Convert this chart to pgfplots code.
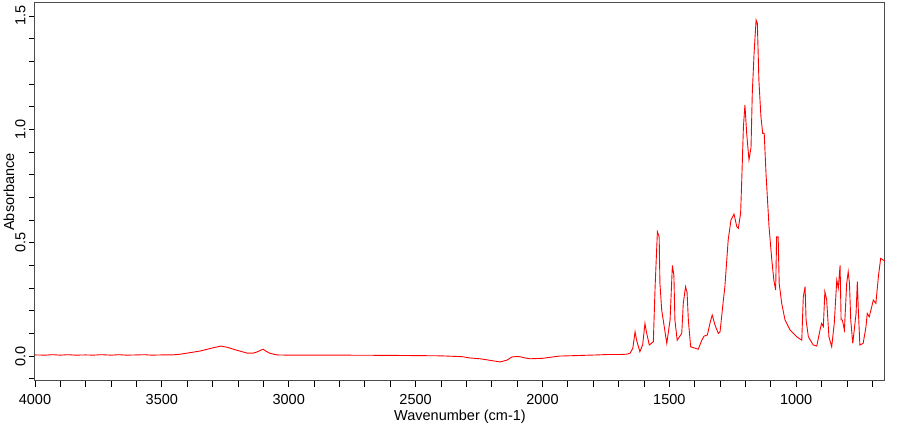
\documentclass[border=0pt]{standalone}
\usepackage{fontspec}
\setmainfont{Liberation Sans}
\usepackage{pgfplots}
\pgfplotsset{compat=1.18}
\begin{document}
\begin{tikzpicture}
\begin{axis}[
  name=ax,
  scale only axis,
  width=850pt, height=378pt,
  x dir=reverse,
  xmin=650, xmax=4000,
  ymin=-0.11, ymax=1.557,
  xtick={1000,1500,2000,2500,3000,3500,4000},
  minor xtick={700,800,900,1100,1200,1300,1400,1600,1700,1800,1900,2100,2200,2300,2400,2600,2700,2800,2900,3100,3200,3300,3400,3600,3700,3800,3900},
  ytick={0,0.5,1,1.5},
  minor ytick={-0.1,0.1,0.2,0.3,0.4,0.6,0.7,0.8,0.9,1.1,1.2,1.3,1.4},
  xtick pos=bottom, ytick pos=left,
  tick align=outside,
  major tick length=6pt, minor tick length=6pt,
  every tick/.style={black, line width=0.8pt},
  axis line style={black!70, line width=1pt},
  /pgf/number format/assume math mode=true,
  xticklabel={\pgfmathprintnumber[fixed,precision=0,1000 sep={}]{\tick}},
  yticklabel={\pgfmathprintnumber[fixed,fixed zerofill,precision=1]{\tick}},
  tick label style={font=\fontsize{14.5}{17}\selectfont},
  xticklabel style={anchor=base, yshift=-18pt},
  yticklabel style={rotate=90, anchor=south},
  xlabel={Wavenumber (cm-1)},
  ylabel={Absorbance},
  label style={font=\fontsize{14.5}{17}\selectfont},
  xlabel style={at={(axis description cs:0.5,0)}, anchor=base, yshift=-40pt},
  ylabel style={at={(axis description cs:-0.0306,0.5)}, anchor=center, rotate=0},
]
\addplot[red, line width=0.9pt] table {
4000 0.005
3960 0.004
3930 0.006
3900 0.004
3870 0.006
3840 0.004
3800 0.005
3770 0.004
3740 0.006
3700 0.004
3670 0.006
3640 0.004
3600 0.005
3570 0.006
3540 0.004
3500 0.005
3460 0.005
3428 0.008
3400 0.013
3350 0.022
3300 0.036
3267 0.044
3240 0.038
3212 0.028
3180 0.018
3164 0.013
3140 0.013
3125 0.018
3110 0.026
3101 0.030
3090 0.022
3074 0.012
3046 0.005
3000 0.004
2800 0.004
2601 0.003
2400 0.001
2313 -0.003
2290 -0.008
2246 -0.012
2200 -0.020
2167 -0.026
2140 -0.018
2120 -0.004
2100 -0.002
2088 -0.003
2070 -0.008
2049 -0.012
2000 -0.010
1960 -0.004
1931 0.000
1870 0.002
1785 0.005
1740 0.007
1694 0.007
1670 0.008
1655 0.012
1644 0.034
1635 0.107
1629 0.070
1616 0.019
1605 0.050
1596 0.144
1591 0.110
1579 0.049
1563 0.063
1556 0.306
1547 0.548
1540 0.526
1537 0.32
1530 0.203
1510 0.056
1497 0.159
1488 0.40
1482 0.357
1478 0.159
1469 0.07
1451 0.10
1445 0.232
1436 0.306
1430 0.28
1425 0.159
1416 0.041
1386 0.030
1372 0.070
1363 0.088
1350 0.093
1340 0.144
1331 0.181
1320 0.137
1307 0.100
1300 0.107
1287 0.247
1281 0.306
1268 0.512
1257 0.600
1245 0.626
1234 0.570
1228 0.563
1219 0.63
1215 0.76
1208 1.01
1202 1.107
1195 0.98
1186 0.865
1178 0.92
1173 1.16
1166 1.335
1158 1.482
1153 1.467
1147 1.217
1139 1.056
1132 0.982
1126 0.982
1119 0.806
1107 0.570
1096 0.423
1088 0.335
1081 0.291
1077 0.526
1071 0.526
1067 0.32
1057 0.232
1044 0.159
1024 0.115
998 0.085
978 0.070
972 0.26
965 0.306
961 0.159
952 0.085
933 0.049
919 0.044
906 0.115
900 0.144
893 0.130
887 0.284
880 0.250
871 0.085
860 0.041
850 0.144
840 0.335
834 0.30
827 0.40
823 0.159
818 0.159
810 0.115
801 0.32
795 0.372
790 0.32
785 0.159
777 0.056
764 0.188
759 0.328
755 0.200
749 0.049
736 0.056
725 0.129
720 0.188
712 0.173
706 0.20
696 0.247
686 0.232
676 0.35
667 0.431
657 0.423
650 0.42
};
\end{axis}
\pgfresetboundingbox
\path[use as bounding box] ([xshift=-35pt,yshift=-44pt]ax.south west) rectangle ([xshift=15pt,yshift=3pt]ax.north east);
\end{tikzpicture}
\end{document}
